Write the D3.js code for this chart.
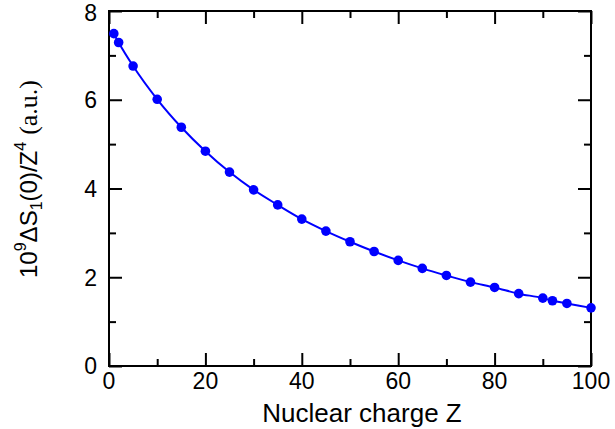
<!DOCTYPE html>
<html><head><meta charset="utf-8">
<script src="https://cdn.jsdelivr.net/npm/d3@7/dist/d3.min.js"></script>
<style>body{margin:0;background:#fff}svg{display:block}</style>
</head><body>
<svg id="c" width="615" height="429"></svg>
<script>
const zValues = [1, 2, 5, 10, 15, 20, 25, 30, 35, 40, 45, 50, 55, 60, 65, 70, 75, 80, 85, 90, 92, 95, 100];
const sValues = [7.49, 7.29, 6.76, 6.01, 5.38, 4.84, 4.37, 3.97, 3.63, 3.31, 3.04, 2.80, 2.58, 2.38, 2.20, 2.04, 1.89, 1.77, 1.63, 1.53, 1.47, 1.41, 1.31];
const xMajorTicks = [0, 20, 40, 60, 80, 100];
const xMinorTicks = [10, 30, 50, 70, 90];
const yMajorTicks = [0, 2, 4, 6, 8];
const yMinorTicks = [1, 3, 5, 7];

const svg = d3.select("#c");
const L = 109, R = 591, T = 11, B = 366;
const x = d3.scaleLinear().domain([0, 100]).range([L, R]);
const y = d3.scaleLinear().domain([0, 8]).range([B, T]);
const font = "'Liberation Sans', Arial, sans-serif";

function ax(gen, tx, ty, vals, len) {
  const g = svg.append("g").attr("transform", `translate(${tx},${ty})`)
    .call(gen.tickValues(vals).tickSize(len).tickFormat(""));
  g.select(".domain").remove();
  g.selectAll("line").attr("stroke", "#000").attr("stroke-width", 2);
  return g;
}
// inward ticks
ax(d3.axisTop(x), 0, B, xMajorTicks, 13);
ax(d3.axisTop(x), 0, B, xMinorTicks, 7);
ax(d3.axisBottom(x), 0, T, xMajorTicks, 13);
ax(d3.axisBottom(x), 0, T, xMinorTicks, 7);
ax(d3.axisRight(y), L, 0, yMajorTicks, 13);
ax(d3.axisRight(y), L, 0, yMinorTicks, 7);
ax(d3.axisLeft(y), R, 0, yMajorTicks, 13);
ax(d3.axisLeft(y), R, 0, yMinorTicks, 7);

svg.append("rect").attr("x", L).attr("y", T).attr("width", R - L).attr("height", B - T)
  .attr("fill", "none").attr("stroke", "#000").attr("stroke-width", 2);

// tick labels
svg.append("g").selectAll("text").data(xMajorTicks).join("text")
  .attr("x", d => x(d)).attr("y", 389).attr("text-anchor", "middle")
  .attr("font-family", font).attr("font-size", 23).text(d => d);
svg.append("g").selectAll("text").data(yMajorTicks).join("text")
  .attr("x", 97).attr("y", d => Math.max(y(d) + 8.3, 21)).attr("text-anchor", "end")
  .attr("font-family", font).attr("font-size", 23).text(d => d);

// x title
svg.append("text").attr("x", 362).attr("y", 421.5).attr("text-anchor", "middle")
  .attr("font-family", font).attr("font-size", 26).text("Nuclear charge Z");

// y title
const yg = svg.append("g");
const yt = yg.append("text").attr("text-anchor", "start").attr("font-family", font).attr("font-size", 24);
yt.append("tspan").text("10");
yt.append("tspan").attr("font-size", 16).attr("dy", -11).text("9");
yt.append("tspan").attr("dy", 11).text("ΔS");
yt.append("tspan").attr("font-size", 16).attr("dy", 5).text("1");
yt.append("tspan").attr("dy", -5).text("(0)/Z");
yt.append("tspan").attr("font-size", 16).attr("dy", -11).text("4");
yt.append("tspan").attr("dy", 11).attr("dx", 7).attr("font-family", "'Liberation Serif', 'Times New Roman', serif")
  .attr("font-size", 26).text("(a.u.)");
const len = yt.node().getComputedTextLength ? yt.node().getBBox().width : 210;
const yStart = 179 + len / 2;
yg.attr("transform", `translate(37,${yStart}) rotate(-90)`);

// line + points
const data = zValues.map((z, i) => ({ z, s: sValues[i] }));
svg.append("path").datum(data)
  .attr("d", d3.line().x(d => x(d.z)).y(d => y(d.s)).curve(d3.curveMonotoneX))
  .attr("fill", "none").attr("stroke", "#0000ff").attr("stroke-width", 2);
svg.append("g").selectAll("circle").data(data).join("circle")
  .attr("cx", d => x(d.z)).attr("cy", d => y(d.s)).attr("r", 4.8).attr("fill", "#0000ff");
</script>
</body></html>
